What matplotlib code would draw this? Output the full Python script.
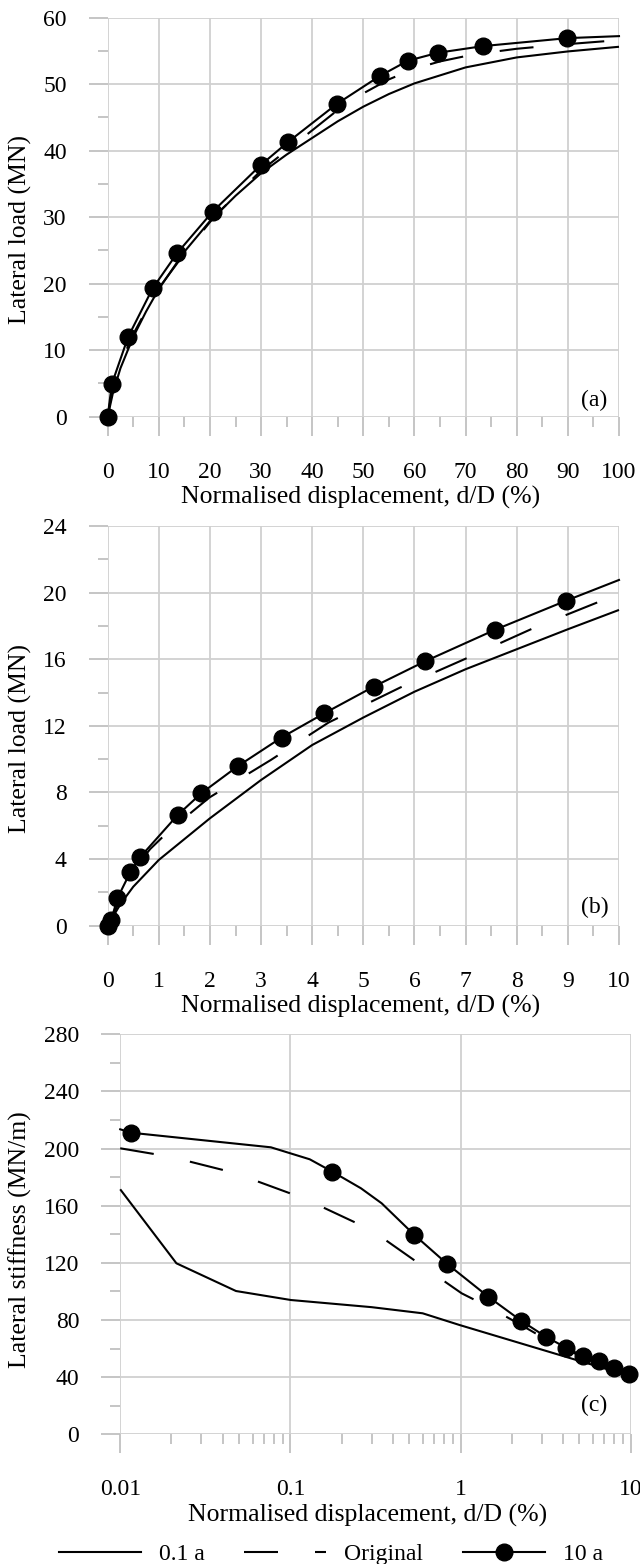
import matplotlib
matplotlib.use("Agg")
import matplotlib.pyplot as plt
from matplotlib.ticker import MultipleLocator, FixedLocator, NullFormatter, LogLocator
from matplotlib.lines import Line2D

plt.rcParams['font.family'] = ['Liberation Serif', 'DejaVu Serif']
plt.rcParams['lines.scale_dashes'] = False

# ---------------- data ----------------
# Panel (a): lateral load vs normalised displacement (0-100 %)
a_01_x = [0, 1, 2.5, 5, 7.5, 10, 15, 20, 25, 30, 35, 40, 45, 50, 55, 60, 70, 80, 90, 100]
a_01_y = [0, 3.5, 7.3, 12.0, 15.8, 19.2, 24.8, 29.4, 33.2, 36.6, 39.4, 41.9, 44.4, 46.6, 48.5, 50.1, 52.5, 54.0, 54.9, 55.6]
a_or_x = [0, 1, 4.5, 9.5, 14.5, 21, 30, 36, 45, 50, 55, 60, 65, 70, 75, 80, 90, 100]
a_or_y = [0, 4.6, 11.7, 18.8, 24.0, 30.2, 37.0, 40.6, 46.1, 48.6, 50.7, 52.3, 53.4, 54.2, 54.8, 55.3, 56.0, 56.6]
a_10_x = [0, 0.8, 4.0, 8.8, 13.6, 20.5, 29.9, 35.3, 44.8, 53.2, 58.7, 64.6, 73.4, 89.9, 100]
a_10_y = [0, 4.9, 12.0, 19.3, 24.6, 30.8, 37.8, 41.3, 47.0, 51.2, 53.5, 54.7, 55.7, 56.9, 57.2]

# Panel (b): lateral load vs normalised displacement (0-10 %)
b_01_x = [0, 0.25, 0.5, 1, 2, 3, 4, 5, 6, 7, 8, 9, 10]
b_01_y = [0, 1.3, 2.34, 3.95, 6.45, 8.75, 10.85, 12.5, 14.05, 15.4, 16.6, 17.8, 18.96]
b_or_x = [0, 0.1, 0.3, 0.6, 0.83, 1.2, 1.99, 3.19, 4.32, 5.72, 7.05, 8.35, 9.69, 10]
b_or_y = [0, 0.5, 2.2, 3.7, 4.6, 5.7, 7.7, 9.95, 12.2, 14.3, 16.1, 17.9, 19.55, 19.92]
b_10_x = [0, 0.07, 0.19, 0.44, 0.63, 1.37, 1.83, 2.55, 3.40, 4.24, 5.20, 6.21, 7.57, 8.97, 10]
b_10_y = [0, 0.35, 1.65, 3.2, 4.1, 6.65, 7.95, 9.59, 11.3, 12.76, 14.35, 15.88, 17.76, 19.52, 20.76]

# Panel (c): lateral stiffness vs normalised displacement (log)
c_01_x = [0.01, 0.0214, 0.0479, 0.1007, 0.3, 0.599, 0.987, 8.15, 9.73]
c_01_y = [171.5, 119.7, 100.3, 94.0, 89.0, 84.7, 76.5, 43.8, 41.5]
c_or_x = [0.01, 0.0197, 0.0466, 0.1197, 0.299, 0.688, 1.015, 1.456, 2.27, 3.17, 4.18, 5.22, 6.52, 8.0, 9.73]
c_or_y = [200.2, 194.3, 183.1, 165.2, 143.0, 112.7, 98.7, 89.3, 76.5, 66.5, 59.5, 54.0, 50.5, 45.5, 41.8]
c_10_x = [0.01, 0.0116, 0.0768, 0.130, 0.1766, 0.260, 0.344, 0.536, 0.836, 1.456, 2.27, 3.17, 4.18, 5.22, 6.52, 8.0, 9.73]
c_10_y = [213.5, 211.1, 200.9, 192.5, 183.8, 172.2, 161.7, 139.5, 119.2, 96.3, 79.5, 68.3, 60.6, 54.8, 51.3, 46.2, 42.2]
c_10_marks = [1, 4, 7, 8, 9, 10, 11, 12, 13, 14, 15, 16]

series_labels = ['0.1 a', 'Original', '10 a']
xlabel = 'Normalised displacement, d/D (%)'

# ---------------- styling ----------------
W, H = 640, 1564
DPI = 100
PX = 72.0 / DPI  # points per pixel
FS = 17.0      # tick labels / panel letters
FT = 18.5      # axis titles
FL = 17.0      # legend
GRID = '#d0d0d0'
TICKC = '#c0c0c0'
LW = 1.5
DASH = (34 * PX, 37 * PX)
MS = 12

fig = plt.figure(figsize=(W / DPI, H / DPI), dpi=DPI)


def rect(l, r, t, b):
    return [l / W, 1 - b / H, (r - l) / W, (b - t) / H]


def style(ax):
    for s in ax.spines.values():
        s.set_visible(False)
    ax.grid(True, which='major', color=GRID, linewidth=1.3)
    ax.set_axisbelow(True)
    ax.tick_params(which='major', direction='out', length=19 * PX, width=1.3,
                   color=TICKC, labelsize=FS, labelcolor='black')
    ax.tick_params(axis='x', which='major', pad=26 * PX)
    ax.tick_params(axis='y', which='major', pad=22 * PX)
    ax.tick_params(which='minor', direction='out', length=10 * PX, width=1.3, color=TICKC)


def plot_three(ax, x1, y1, x2, y2, x3, y3, marks):
    ax.plot(x1, y1, color='black', lw=LW, solid_capstyle='butt', clip_on=False, zorder=3)
    ax.plot(x2, y2, color='black', lw=LW, linestyle=(0, DASH), dash_capstyle='butt',
            clip_on=False, zorder=3)
    ax.plot(x3, y3, color='black', lw=LW, marker='o', ms=MS, markevery=marks,
            clip_on=False, zorder=4)


# Panel (a)
axa = fig.add_axes(rect(107.7, 619, 17.5, 416.7))
style(axa)
axa.set_xlim(0, 100)
axa.set_ylim(0, 60)
axa.xaxis.set_major_locator(MultipleLocator(10))
axa.xaxis.set_minor_locator(MultipleLocator(5))
axa.yaxis.set_major_locator(MultipleLocator(10))
axa.yaxis.set_minor_locator(MultipleLocator(5))
plot_three(axa, a_01_x, a_01_y, a_or_x, a_or_y, a_10_x, a_10_y, list(range(len(a_10_x) - 1)))

# Panel (b)
axb = fig.add_axes(rect(107.7, 619, 526, 925.7))
style(axb)
axb.set_xlim(0, 10)
axb.set_ylim(0, 24)
axb.xaxis.set_major_locator(MultipleLocator(1))
axb.xaxis.set_minor_locator(MultipleLocator(0.5))
axb.yaxis.set_major_locator(MultipleLocator(4))
axb.yaxis.set_minor_locator(MultipleLocator(2))
plot_three(axb, b_01_x, b_01_y, b_or_x, b_or_y, b_10_x, b_10_y, list(range(len(b_10_x) - 1)))

# Panel (c)
axc = fig.add_axes(rect(120.2, 630.7, 1034.3, 1434.3))
style(axc)
axc.set_xscale('log')
axc.set_xlim(0.01, 10)
axc.set_ylim(0, 280)
axc.xaxis.set_major_locator(FixedLocator([0.01, 0.1, 1, 10]))
axc.xaxis.set_minor_locator(LogLocator(base=10, subs=range(2, 10)))
axc.xaxis.set_minor_formatter(NullFormatter())
axc.set_xticklabels(['0.01', '0.1', '1', '10'])
axc.yaxis.set_major_locator(MultipleLocator(40))
axc.yaxis.set_minor_locator(MultipleLocator(20))
plot_three(axc, c_01_x, c_01_y, c_or_x, c_or_y, c_10_x, c_10_y, c_10_marks)

# axis titles
for yb, xc in [(416.7, 361), (925.7, 361), (1434.3, 368)]:
    fig.text(xc / W, 1 - (yb + 87) / H, xlabel, ha='center', va='baseline', fontsize=FT)

fig.text(20 / W, 1 - 229 / H, 'Lateral load (MN)', rotation=90, ha='center', va='center', fontsize=FT)
fig.text(20 / W, 1 - 738 / H, 'Lateral load (MN)', rotation=90, ha='center', va='center', fontsize=FT)
fig.text(20 / W, 1 - 1240 / H, 'Lateral stiffness (MN/m)', rotation=90, ha='center', va='center', fontsize=FT)

for lab, (xc, yc) in zip(['(a)', '(b)', '(c)'], [(594, 400), (595, 907.5), (594, 1405)]):
    fig.text(xc / W, 1 - yc / H, lab, ha='center', va='center', fontsize=FS)

# legend
handles = [
    Line2D([], [], color='black', lw=LW),
    Line2D([], [], color='black', lw=LW, linestyle=(0, DASH), dash_capstyle='butt'),
    Line2D([], [], color='black', lw=LW, marker='o', ms=MS),
]
fig.legend(handles, series_labels, loc='center', bbox_to_anchor=(331 / W, 1 - 1554 / H),
           ncol=3, frameon=False, fontsize=FL, handlelength=82 / (FL / PX),
           handletextpad=18 / (FL / PX), columnspacing=40 / (FL / PX), borderpad=0,
           borderaxespad=0)

fig.savefig('out.png', dpi=DPI)
